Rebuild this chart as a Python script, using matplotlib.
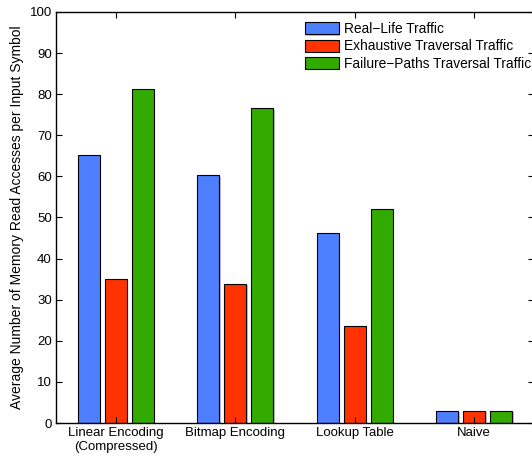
import numpy as np
import matplotlib
matplotlib.use("Agg")
import matplotlib.pyplot as plt
import matplotlib.patheffects as pe

plt.rcParams['font.family'] = ['Liberation Sans', 'DejaVu Sans']

# accesses per input symbol for each encoding scheme
schemes = ['Linear Encoding\n(Compressed)', 'Bitmap Encoding', 'Lookup Table', 'Naive']
real_life = [65.2, 60.3, 46.2, 3.0]
exhaustive = [35.1, 33.9, 23.6, 3.0]
failure_paths = [81.2, 76.6, 52.1, 3.0]
series_names = ['Real\u2212Life Traffic', 'Exhaustive Traversal Traffic',
                'Failure\u2212Paths Traversal Traffic']
colors = ['#4d7fff', '#ff3300', '#33aa00']

fig = plt.figure(figsize=(5.32, 4.57), dpi=100)
ax = fig.add_axes([56 / 532, 34 / 457, 478 / 532, 411 / 457])

x = np.arange(1, len(schemes) + 1)
shadow = [pe.SimplePatchShadow(offset=(1, -1), shadow_rgbFace='0.6', alpha=0.6), pe.Normal()]
offsets = [-0.225, 0.0, 0.225]
for vals, off, col, name in zip([real_life, exhaustive, failure_paths], offsets, colors, series_names):
    bars = ax.bar(x + off, vals, width=0.185, color=col, edgecolor='black',
                  linewidth=0.8, label=name)
    for b in bars:
        b.set_path_effects(shadow)

ax.set_xlim(0.5, 4.5)
ax.set_ylim(0, 100)
ax.set_yticks(np.arange(0, 101, 10))
ax.set_xticks(x)
ax.set_xticklabels(schemes, fontsize=9.5)
ax.tick_params(axis='y', labelsize=9.5)
ax.tick_params(direction='in', length=4, width=0.8, top=True, right=True, pad=3)
for s in ax.spines.values():
    s.set_linewidth(1.0)
ax.set_ylabel('Average Number of Memory Read Accesses per Input Symbol', fontsize=10, labelpad=4)

ax.legend(loc='upper left', bbox_to_anchor=(305 / 532, 1 - 22 / 457),
          bbox_transform=fig.transFigure, frameon=False, fontsize=9.9,
          handlelength=2.45, handleheight=0.95, handletextpad=0.35,
          labelspacing=0.25, borderpad=0, borderaxespad=0)

fig.savefig('out.png', dpi=100)
